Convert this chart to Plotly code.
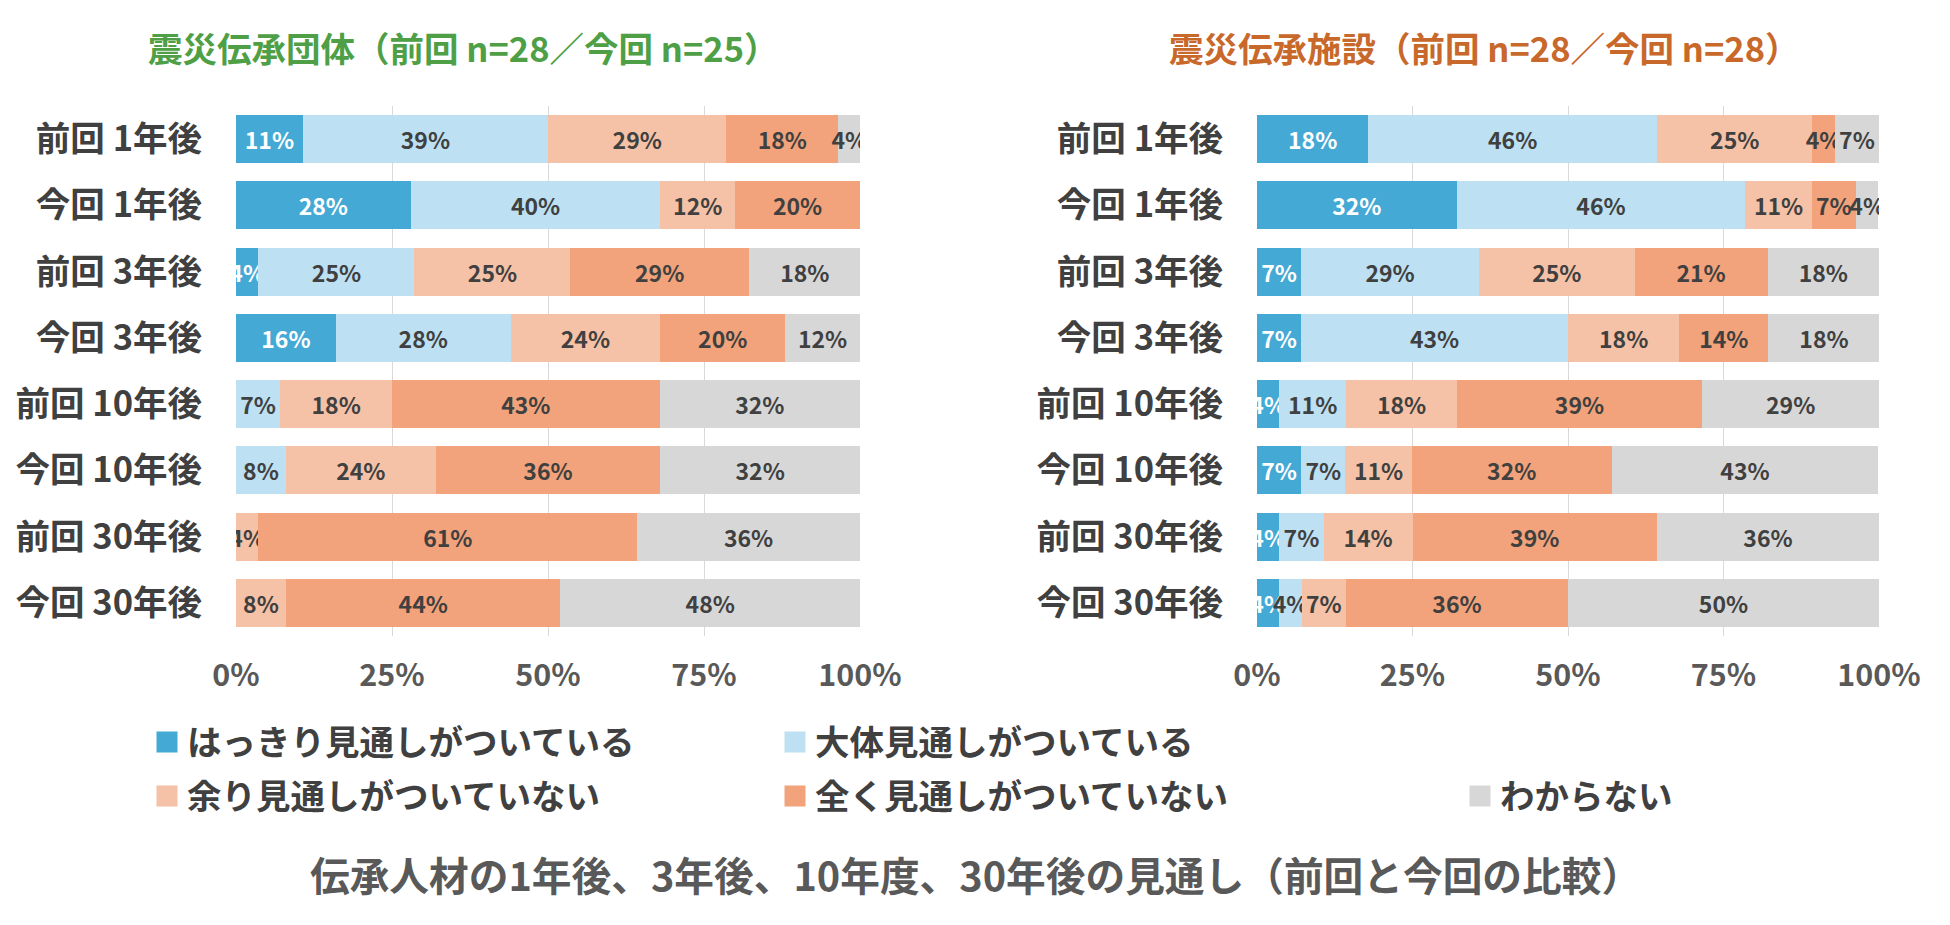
import plotly.graph_objects as go

# ---------------- data ----------------
categories = ["前回 1年後", "今回 1年後", "前回 3年後", "今回 3年後",
              "前回 10年後", "今回 10年後", "前回 30年後", "今回 30年後"]
series_names = ["はっきり見通しがついている", "大体見通しがついている",
                "余り見通しがついていない", "全く見通しがついていない", "わからない"]

# 震災伝承団体 (%)
dantai_hakkiri = [10.7, 28, 3.6, 16, 0, 0, 0, 0]
dantai_daitai = [39.3, 40, 25.0, 28, 7.1, 8, 0, 0]
dantai_amari = [28.6, 12, 25.0, 24, 17.9, 24, 3.6, 8]
dantai_mattaku = [17.9, 20, 28.6, 20, 42.9, 36, 60.7, 44]
dantai_wakaranai = [3.6, 0, 17.9, 12, 32.1, 32, 35.7, 48]

# 震災伝承施設 (%)
shisetsu_hakkiri = [17.9, 32.1, 7.1, 7.1, 3.6, 7.1, 3.6, 3.6]
shisetsu_daitai = [46.4, 46.4, 28.6, 42.9, 10.7, 7.1, 7.1, 3.6]
shisetsu_amari = [25.0, 10.7, 25.0, 17.9, 17.9, 10.7, 14.3, 7.1]
shisetsu_mattaku = [3.6, 7.1, 21.4, 14.3, 39.3, 32.1, 39.3, 35.7]
shisetsu_wakaranai = [7.1, 3.6, 17.9, 17.9, 28.6, 42.9, 35.7, 50.0]

x_tickvals = [0, 25, 50, 75, 100]
x_ticktext = ["0%", "25%", "50%", "75%", "100%"]

title_left = "震災伝承団体（前回 n=28／今回 n=25）"
title_right = "震災伝承施設（前回 n=28／今回 n=28）"
title_bottom = "伝承人材の1年後、3年後、10年度、30年後の見通し（前回と今回の比較）"

# ---------------- style ----------------
FONT = "Noto Sans CJK JP"
colors = ["#45A9D5", "#BDE0F2", "#F6C2A7", "#F2A37B", "#D7D7D7"]
label_colors = ["#FFFFFF", "#404040", "#404040", "#404040", "#404040"]

left_series = [dantai_hakkiri, dantai_daitai, dantai_amari, dantai_mattaku, dantai_wakaranai]
right_series = [shisetsu_hakkiri, shisetsu_daitai, shisetsu_amari, shisetsu_mattaku, shisetsu_wakaranai]

fig = go.Figure()


def labels(vals):
    return [f"{round(v)}%" if v > 0 else "" for v in vals]


for side, (series, xa, ya) in enumerate([(left_series, "x", "y"), (right_series, "x2", "y2")]):
    for i, vals in enumerate(series):
        fig.add_trace(go.Bar(
            x=vals, y=categories, orientation="h",
            name=series_names[i],
            marker=dict(color=colors[i], line=dict(width=0)),
            text=labels(vals), textposition="inside", insidetextanchor="middle",
            textangle=0, constraintext="none",
            textfont=dict(family=FONT, size=23, color=label_colors[i], weight="bold"),
            hoverinfo="skip", showlegend=False,
            xaxis=xa, yaxis=ya, cliponaxis=True,
        ))

# legend entries
legend_map = ["legend", "legend", "legend2", "legend2", "legend3"]
for i, nm in enumerate(series_names):
    fig.add_trace(go.Scatter(
        x=[None], y=[None], mode="markers", name=nm,
        marker=dict(symbol="square", size=16, color=colors[i],
                    line=dict(width=5, color=colors[i])),
        legend=legend_map[i], showlegend=True, hoverinfo="skip",
    ))

axis_common = dict(
    range=[0, 100], tickvals=x_tickvals, ticktext=x_ticktext,
    showgrid=True, gridcolor="#D9D9D9", gridwidth=1, zeroline=False,
    showline=False, ticks="", fixedrange=True, automargin=False,
    tickfont=dict(family=FONT, size=30.5, color="#595959", weight="bold"),
    ticklabelstandoff=18,
)
yaxis_common = dict(
    categoryorder="array", categoryarray=categories, autorange="reversed",
    showgrid=False, zeroline=False, showline=False, ticks="", automargin=False,
    tickfont=dict(family=FONT, size=34.5, color="#404040", weight="bold"),
    ticklabelstandoff=33, fixedrange=True,
)

W, H = 1950, 925
y_top, y_bot = 106, 636

legend_font = dict(family=FONT, size=34.5, color="#404040", weight="bold")

fig.update_layout(
    width=W, height=H, margin=dict(l=0, r=0, t=0, b=0),
    paper_bgcolor="white", plot_bgcolor="white",
    barmode="stack", bargap=0.273,
    xaxis=dict(domain=[236 / W, 860 / W], anchor="y", **axis_common),
    yaxis=dict(domain=[1 - y_bot / H, 1 - y_top / H], anchor="x", **yaxis_common),
    xaxis2=dict(domain=[1257 / W, 1879 / W], anchor="y2", **axis_common),
    yaxis2=dict(domain=[1 - y_bot / H, 1 - y_top / H], anchor="x2", **yaxis_common),
    legend=dict(orientation="h", x=147 / W, xanchor="left", y=1 - 742 / H, yanchor="middle",
                entrywidth=583, entrywidthmode="pixels", traceorder="normal",
                font=legend_font, bgcolor="rgba(0,0,0,0)",
                itemclick=False, itemdoubleclick=False),
    legend2=dict(orientation="h", x=147 / W, xanchor="left", y=1 - 796 / H, yanchor="middle",
                 entrywidth=583, entrywidthmode="pixels", traceorder="normal",
                 font=legend_font, bgcolor="rgba(0,0,0,0)",
                 itemclick=False, itemdoubleclick=False),
    legend3=dict(orientation="h", x=1460 / W, xanchor="left", y=1 - 796 / H, yanchor="middle",
                 traceorder="normal", font=legend_font, bgcolor="rgba(0,0,0,0)",
                 itemclick=False, itemdoubleclick=False),
    annotations=[
        dict(text=title_left, x=463 / W, y=1 - 47 / H, xref="paper", yref="paper",
             xanchor="center", yanchor="middle", showarrow=False,
             font=dict(family=FONT, size=34.5, color="#4E9F45", weight="bold")),
        dict(text=title_right, x=1484 / W, y=1 - 47 / H, xref="paper", yref="paper",
             xanchor="center", yanchor="middle", showarrow=False,
             font=dict(family=FONT, size=34.5, color="#C8682A", weight="bold")),
        dict(text=title_bottom, x=975 / W, y=1 - 873 / H, xref="paper", yref="paper",
             xanchor="center", yanchor="middle", showarrow=False,
             font=dict(family=FONT, size=39.7, color="#595959", weight="bold")),
    ],
)

fig.write_html("out.html", include_plotlyjs=True, config={"displayModeBar": False},
               post_script="document.body.style.margin='0';")
